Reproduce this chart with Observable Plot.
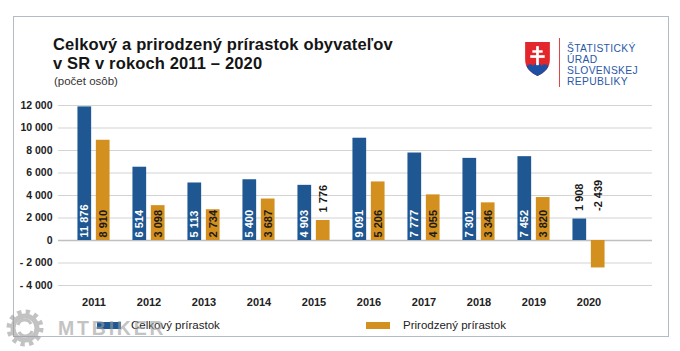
<!DOCTYPE html>
<html><head><meta charset="utf-8">
<script src="https://cdn.jsdelivr.net/npm/d3@7"></script>
<script src="https://cdn.jsdelivr.net/npm/@observablehq/plot@0.6"></script>
<style>
body{margin:0;background:#fff;font-family:"Liberation Sans",Arial,sans-serif;}
#wrap{position:relative;width:680px;height:351px;overflow:hidden;background:#fff;}
#frame{position:absolute;left:13px;top:16px;width:656px;height:321px;border:1px solid #b3bcc6;box-sizing:border-box;}
#chart{position:absolute;left:0;top:0;}
.abs{position:absolute;white-space:nowrap;}
.tt{position:absolute;left:53px;font-size:16.5px;line-height:18.5px;letter-spacing:0.15px;font-weight:bold;color:#151515;white-space:nowrap;}
#subtitle{left:54px;top:74.5px;font-size:11.5px;line-height:13px;color:#333;}
.lt{position:absolute;left:567px;font-family:"Liberation Sans",Arial,sans-serif;font-size:10.3px;line-height:11.5px;letter-spacing:0.35px;color:#2a58a6;white-space:nowrap;}
#logoline{left:559px;top:38px;width:1px;height:49px;background:#e04545;}
.sw{position:absolute;height:7px;width:24px;top:322px;}
.lg{position:absolute;top:318.5px;font-size:11.5px;line-height:13px;color:#222;}
#wm{left:58px;top:317px;font-size:19.5px;font-weight:bold;color:#9c9c9c;opacity:0.6;letter-spacing:2.8px;line-height:22px;}
</style></head>
<body>
<div id="wrap">
  <div id="frame"></div>
  <div id="chart"></div>
  <div class="tt" style="top:35.3px">Celkový a prirodzený prírastok obyvateľov</div>
  <div class="tt" style="top:53.8px">v SR v rokoch 2011 – 2020</div>
  <div id="subtitle" class="abs">(počet osôb)</div>
  <svg class="abs" style="left:525px;top:42px" width="25" height="34" viewBox="0 0 24 33">
    <defs><clipPath id="sh"><path d="M0,0 H24 V17 C24,26 18,30 12,33 C6,30 0,26 0,17 Z"/></clipPath></defs>
    <path d="M0,0 H24 V17 C24,26 18,30 12,33 C6,30 0,26 0,17 Z" fill="#e2262c"/>
    <path clip-path="url(#sh)" d="M0,25 Q4,19.5 8,23 Q12,17.5 16,23 Q20,19.5 24,25 V33 H0 Z" fill="#1d4fa2"/>
    <rect x="10.7" y="4" width="2.6" height="18.5" fill="#fff"/>
    <rect x="7" y="8" width="10" height="2.4" fill="#fff"/>
    <rect x="5" y="12.8" width="14" height="2.6" fill="#fff"/>
  </svg>
  <div id="logoline" class="abs"></div>
  <div class="lt" style="top:42.5px">ŠTATISTICKÝ</div>
  <div class="lt" style="top:53.8px">ÚRAD</div>
  <div class="lt" style="top:65.1px">SLOVENSKEJ</div>
  <div class="lt" style="top:76.4px">REPUBLIKY</div>
  <div class="sw" style="left:97px;background:#1f5792"></div>
  <div class="lg" style="left:131px">Celkový prírastok</div>
  <div class="sw" style="left:366px;background:#d4901e"></div>
  <div class="lg" style="left:403px">Prirodzený prírastok</div>
  <svg class="abs" style="left:5px;top:308px;opacity:0.6" width="40" height="40">
    <circle cx="20" cy="20" r="16" fill="none" stroke="#9a9a9a" stroke-width="5" stroke-dasharray="4.2 4.2"/>
    <circle cx="20" cy="20" r="12" fill="none" stroke="#9a9a9a" stroke-width="5"/>
    <path d="M13,17 A7,7 0 0 1 26,16 M27,23 A7,7 0 0 1 14,24" fill="none" stroke="#9a9a9a" stroke-width="3"/>
  </svg>
  <div id="wm" class="abs">MTBIKER</div>
</div>
<script>
const years = ["2011","2012","2013","2014","2015","2016","2017","2018","2019","2020"];
const celkovy = [11876, 6514, 5113, 5400, 4903, 9091, 7777, 7301, 7452, 1908];
const prirodzeny = [8910, 3098, 2734, 3687, 1776, 5206, 4055, 3346, 3820, -2439];
const yTicks = [-4000, -2000, 0, 2000, 4000, 6000, 8000, 10000, 12000];
const seriesNames = ["Celkový prírastok", "Prirodzený prírastok"];

const blue = "#1f5792", orange = "#d4901e";
const loc = d3.formatLocale({decimal: ",", thousands: " ", grouping: [3], currency: ["", ""], minus: "-"});
const fmtV = loc.format(",d");
const fmtY = d => d < 0 ? "- " + fmtV(-d) : fmtV(d);

const rowsC = years.map((y, i) => ({year: y, series: seriesNames[0], value: celkovy[i], groupMax: Math.max(celkovy[i], prirodzeny[i])}));
const rowsP = years.map((y, i) => ({year: y, series: seriesNames[1], value: prirodzeny[i], groupMax: Math.max(celkovy[i], prirodzeny[i])}));

const xRange = [62.15, 619.15];
const bw = (xRange[1] - xRange[0]) / years.length;
const barW = 14.4, gap = 2;
const half = bw / 2;
const off = gap + barW / 2;
const fits = d => d.value >= 2500;
const outY = d => d.value > 0 ? d.value : d.groupMax;

const textOpts = {fontSize: 11, fontWeight: "bold", rotate: -90, textAnchor: "start", lineAnchor: "middle"};

const plot = Plot.plot({
  width: 680, height: 351,
  marginTop: 105, marginBottom: 66, marginLeft: 58, marginRight: 28,
  style: {fontFamily: "Liberation Sans, Arial, sans-serif", background: "transparent", color: "#222"},
  x: {type: "band", domain: years, range: xRange, padding: 0},
  y: {domain: [-4000, 12000]},
  marks: [
    Plot.ruleY(yTicks.filter(t => t !== 0), {stroke: "#d3d3d3", strokeWidth: 1}),
    Plot.ruleY([0], {stroke: "#c0c0c0", strokeWidth: 1.5}),
    Plot.barY(rowsC, {x: "year", y1: 0, y2: "value", fill: blue, insetLeft: half - gap - barW, insetRight: half + gap}),
    Plot.barY(rowsP, {x: "year", y1: 0, y2: "value", fill: orange, insetLeft: half + gap, insetRight: half - gap - barW}),
    Plot.text(rowsC.filter(fits), {x: "year", y: () => 0, text: d => fmtV(d.value), dx: -off, dy: -3, fill: "#fff", ...textOpts}),
    Plot.text(rowsP.filter(fits), {x: "year", y: () => 0, text: d => fmtV(d.value), dx: off, dy: -3, fill: "#1a1a1a", ...textOpts}),
    Plot.text(rowsC.filter(d => !fits(d)), {x: "year", y: outY, text: d => fmtV(d.value), dx: -off, dy: -8, fill: "#1a1a1a", ...textOpts}),
    Plot.text(rowsP.filter(d => !fits(d)), {x: "year", y: outY, text: d => fmtV(d.value), dx: off, dy: -8, fill: "#1a1a1a", ...textOpts}),
    Plot.axisY({ticks: yTicks, tickSize: 0, tickPadding: 6, tickFormat: fmtY, fontSize: 10.5, fontWeight: "bold", label: null}),
    Plot.axisX({tickSize: 0, tickPadding: 13, fontSize: 11, fontWeight: "bold", label: null})
  ]
});
document.getElementById("chart").appendChild(plot);
</script>
</body></html>
